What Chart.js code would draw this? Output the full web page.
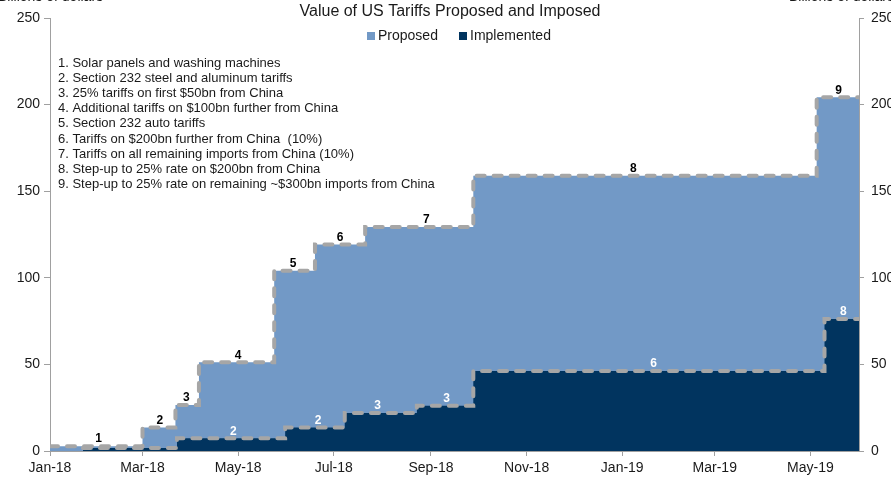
<!DOCTYPE html>
<html>
<head>
<meta charset="utf-8">
<title>Value of US Tariffs Proposed and Imposed</title>
<script src="https://cdn.jsdelivr.net/npm/chart.js@4/dist/chart.umd.min.js"></script>
<style>
    html, body { margin: 0; padding: 0; background: #fff; }
    #wrap { width: 891px; height: 478px; }
</style>
</head>
<body>
<div id="wrap"><canvas id="tariffs" width="891" height="478"></canvas></div>
<script>
// x values are days counted from 1 Jan 2018
const axisEndDay = 516;

const monthTickDays = [0, 59, 120, 181, 243, 304, 365, 424, 485];
const monthTickLabels = ['Jan-18', 'Mar-18', 'May-18', 'Jul-18', 'Sep-18', 'Nov-18', 'Jan-19', 'Mar-19', 'May-19'];

const valueTicks = [0, 50, 100, 150, 200, 250];

// step start days and the cumulative value ($bn) from that day
const proposedDays = [0, 59, 80, 95, 143, 169, 201, 270, 489, 516];
const proposedValues = [2.8, 13.5, 26.6, 51.2, 104.1, 119.2, 129.4, 158.9, 204.2, 204.2];

const implementedDays = [21, 81, 150, 188, 234, 270, 494, 516];
const implementedValues = [1.8, 7.3, 13.5, 22.0, 26.1, 46.2, 76.2, 76.2];

// numbered markers sitting on each step
const proposedMarkDays = [31, 70, 87, 120, 155, 185, 240, 372, 503];
const proposedMarks = ['1', '2', '3', '4', '5', '6', '7', '8', '9'];

const implementedMarkDays = [117, 171, 209, 253, 385, 506];
const implementedMarks = ['2', '2', '3', '3', '6', '8'];

const notes = [
    '1. Solar panels and washing machines',
    '2. Section 232 steel and aluminum tariffs',
    '3. 25% tariffs on first $50bn from China',
    '4. Additional tariffs on $100bn further from China',
    '5. Section 232 auto tariffs',
    '6. Tariffs on $200bn further from China  (10%)',
    '7. Tariffs on all remaining imports from China (10%)',
    '8. Step-up to 25% rate on $200bn from China',
    '9. Step-up to 25% rate on remaining ~$300bn imports from China',
];

const colors = {
    proposed: '#7299c6',
    implemented: '#01345f',
    dash: '#a6a6a6',
    axis: '#a0a0a0',
    text: '#1a1a1a',
};

const FONT = '"Liberation Sans", Arial, sans-serif';

const toPoints = (days, values) => days.map((d, i) => ({ x: d, y: values[i] }));

const valueAt = (days, values, day) => {
    let v = 0;
    days.forEach((d, i) => {
        if (d <= day) {
            v = values[i];
        }
    });
    return v;
};

const stepLabels = {
    id: 'stepLabels',
    afterDatasetsDraw(chart) {
        const { ctx, scales } = chart;
        const draw = (days, values, markDays, marks, color) => {
            ctx.fillStyle = color;
            markDays.forEach((day, i) => {
                const px = scales.x.getPixelForValue(day);
                const py = scales.y.getPixelForValue(valueAt(days, values, day));
                ctx.fillText(marks[i], px, py - 7);
            });
        };
        ctx.save();
        ctx.font = `bold 12px ${FONT}`;
        ctx.textAlign = 'center';
        ctx.textBaseline = 'middle';
        draw(proposedDays, proposedValues, proposedMarkDays, proposedMarks, '#000');
        draw(implementedDays, implementedValues, implementedMarkDays, implementedMarks, '#fff');
        ctx.restore();
    },
};

const decorations = {
    id: 'decorations',
    afterDraw(chart) {
        const { ctx } = chart;
        ctx.save();
        ctx.fillStyle = colors.text;

        // axis captions, mostly above the canvas top
        ctx.font = `14px ${FONT}`;
        ctx.textBaseline = 'alphabetic';
        ctx.textAlign = 'left';
        ctx.fillText('Billions of dollars', -2, 1);
        ctx.textAlign = 'right';
        ctx.fillText('Billions of dollars', 894, 1);

        ctx.font = `16px ${FONT}`;
        ctx.textAlign = 'center';
        ctx.textBaseline = 'middle';
        ctx.fillText('Value of US Tariffs Proposed and Imposed', 450, 12);

        // legend
        ctx.font = `14px ${FONT}`;
        ctx.textAlign = 'left';
        ctx.fillStyle = colors.proposed;
        ctx.fillRect(367, 32, 8, 8);
        ctx.fillStyle = colors.implemented;
        ctx.fillRect(459, 32, 8, 8);
        ctx.fillStyle = colors.text;
        ctx.fillText('Proposed', 378, 36);
        ctx.fillText('Implemented', 470, 36);

        // notes block
        ctx.font = `13px ${FONT}`;
        notes.forEach((line, i) => {
            ctx.fillText(line, 58, 63 + i * 15.2);
        });
        ctx.restore();
    },
};

const lineStyle = {
    stepped: 'before',
    borderColor: colors.dash,
    borderWidth: 4,
    borderDash: [8, 9],
    borderCapStyle: 'round',
    pointRadius: 0,
    pointHoverRadius: 0,
    fill: 'origin',
};

const tickFont = { family: FONT, size: 14 };

new Chart(document.getElementById('tariffs'), {
    type: 'line',
    data: {
        datasets: [
            {
                label: 'Implemented',
                data: toPoints(implementedDays, implementedValues),
                backgroundColor: colors.implemented,
                ...lineStyle,
            },
            {
                label: 'Proposed',
                data: toPoints(proposedDays, proposedValues),
                backgroundColor: colors.proposed,
                ...lineStyle,
            },
        ],
    },
    options: {
        responsive: false,
        animation: false,
        layout: { padding: { top: 18, left: 0, right: 0, bottom: 0 } },
        plugins: {
            legend: { display: false },
            title: { display: false },
            tooltip: { enabled: false },
        },
        scales: {
            x: {
                type: 'linear',
                min: 0,
                max: axisEndDay,
                afterBuildTicks(scale) {
                    scale.ticks = monthTickDays.map((value) => ({ value }));
                },
                afterFit(scale) {
                    scale.height = 27;
                },
                ticks: {
                    autoSkip: false,
                    maxRotation: 0,
                    padding: 4,
                    color: colors.text,
                    font: tickFont,
                    callback: (value) => monthTickLabels[monthTickDays.indexOf(value)] ?? '',
                },
                grid: { drawOnChartArea: false, drawTicks: true, tickLength: 5, color: colors.axis },
                border: { display: true, color: colors.axis },
            },
            y: {
                position: 'left',
                min: 0,
                max: 250,
                afterBuildTicks(scale) {
                    scale.ticks = valueTicks.map((value) => ({ value }));
                },
                afterFit(scale) {
                    scale.width = 50;
                },
                ticks: { padding: 4, color: colors.text, font: tickFont },
                grid: { drawOnChartArea: false, drawTicks: true, tickLength: 6, color: colors.axis },
                border: { display: true, color: colors.axis },
            },
            y2: {
                position: 'right',
                min: 0,
                max: 250,
                afterBuildTicks(scale) {
                    scale.ticks = valueTicks.map((value) => ({ value }));
                },
                afterFit(scale) {
                    scale.width = 32;
                },
                ticks: { padding: 7, color: colors.text, font: tickFont },
                grid: { drawOnChartArea: false, drawTicks: true, tickLength: 5, color: colors.axis },
                border: { display: true, color: colors.axis },
            },
        },
    },
    plugins: [stepLabels, decorations],
});
</script>
</body>
</html>
